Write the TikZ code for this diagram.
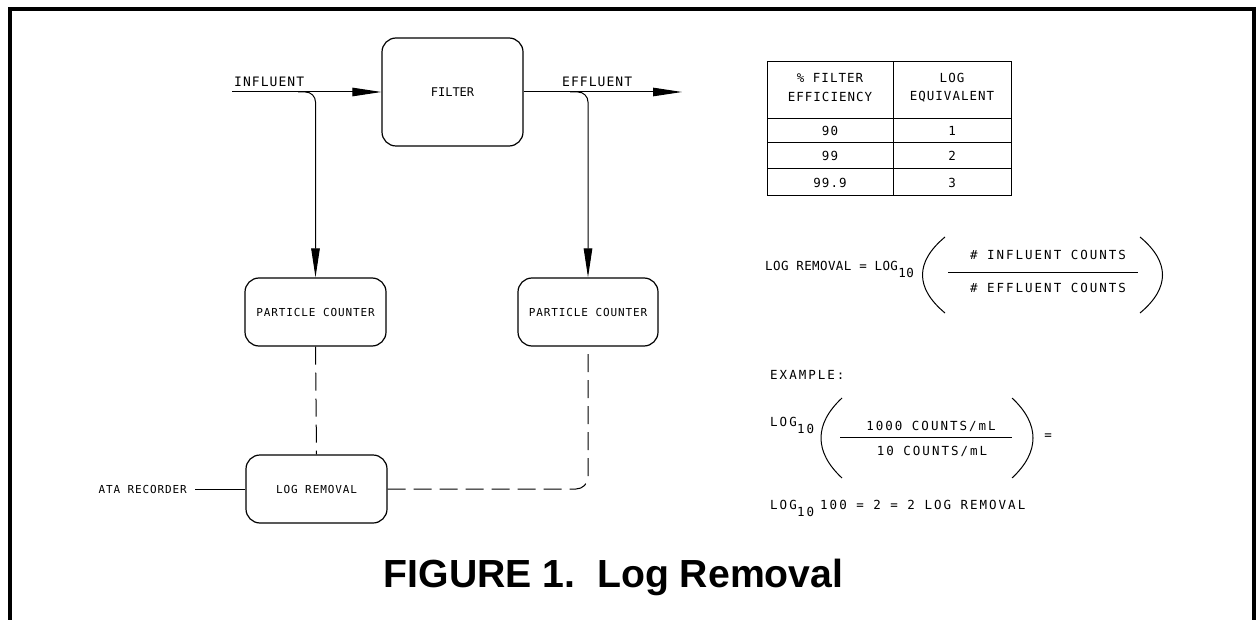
\documentclass[tikz,border=0pt]{standalone}
\usepackage{fontspec}
\setmainfont{Liberation Sans}
\newfontfamily\cad{DejaVu Sans Mono}
\newfontfamily\cadA{DejaVu Sans Mono}[LetterSpace=8]
\newfontfamily\cadB{DejaVu Sans Mono}[LetterSpace=16]
\newfontfamily\cadC{DejaVu Sans Mono}[LetterSpace=3]
\usetikzlibrary{arrows.meta}
\begin{document}
\begin{tikzpicture}[x=1pt,y=-1pt,
  box/.style={draw, line width=1.2pt, rounded corners=14pt, inner sep=0pt,
    font=\cadA\fontsize{11}{13}\selectfont},
  lbl/.style={inner sep=0pt, font=\cadA\fontsize{11}{13}\selectfont},
  flow/.style={inner sep=0pt, font=\cadA\fontsize{13}{15}\selectfont},
  tab/.style={inner sep=0pt, font=\cadA\fontsize{12.5}{15}\selectfont},
  fm/.style={inner sep=0pt, font=\cadB\fontsize{12.5}{15}\selectfont},
  fmn/.style={inner sep=0pt, font=\cadC\fontsize{12.5}{15}\selectfont},
  ln/.style={line width=1pt},
  arr/.style={-{Triangle[length=29pt,width=8.5pt]}},
  dsh/.style={line width=1pt, dash pattern=on 18pt off 8pt},
  frame/.style={line width=4pt},
  title/.style={inner sep=0pt, font=\bfseries\fontsize{39.2}{45}\selectfont}]
\useasboundingbox (0,0) rectangle (1257,620);
\draw[frame] (9.5,620) -- (9.5,9.5) -- (1254,9.5) -- (1254,620);

% boxes
\node[box, font=\cad\fontsize{12}{14}\selectfont, minimum width=141pt, minimum height=108pt] (filter) at (452.5,92) {FILTER};
\node[box, minimum width=141pt, minimum height=68pt] (pc1) at (315.5,312) {PARTICLE COUNTER};
\node[box, minimum width=140pt, minimum height=68pt] (pc2) at (588,312) {PARTICLE COUNTER};
\node[box, minimum width=141pt, minimum height=68pt] (lr) at (316.5,489) {LOG REMOVAL};

% influent / effluent
\coordinate (in0) at (232,92);
\coordinate (b1) at (298,92);
\coordinate (out) at (682,92);
\coordinate (b2) at (570,92);
\node[flow, anchor=west] (inl) at (234,82) {INFLUENT};
\node[flow, anchor=west] (efl) at (562,82) {EFFLUENT};
\draw[ln, arr] (in0) -- (filter.west);
\draw[ln, arr, rounded corners=10pt] (b1) -| (pc1.north);
\draw[ln, arr] (filter.east) -- (out);
\draw[ln, arr, rounded corners=10pt] (b2) -| (pc2.north);

% dashed signal lines
\draw[dsh] (pc1.south) -- (lr.north);
\draw[dsh, rounded corners=12pt] (lr.east) -| (pc2.south);

% recorder
\node[lbl, anchor=east] (rec) at (187,489) {ATA RECORDER};
\draw[ln] ([xshift=8pt]rec.east) -- (lr.west);

% table
\draw[line width=1pt] (767,62) rectangle (1011,196);
\draw[line width=1pt] (893,62) -- (893,196);
\draw[line width=0.8pt] (767,118) -- (1011,118);
\draw[line width=1pt] (767,143) -- (1011,143);
\draw[line width=1pt] (767,169) -- (1011,169);
\node[tab] (h1a) at (830,78) {\%\ FILTER};
\node[tab] (h1b) at (830,97) {EFFICIENCY};
\node[tab] (h2a) at (952,78) {LOG};
\node[tab] (h2b) at (952,97) {EQUIVALENT};
\node[tab] (r1a) at (830,130.5) {90};
\node[tab] (r1b) at (952,130.5) {1};
\node[tab] (r2a) at (830,156) {99};
\node[tab] (r2b) at (952,156) {2};
\node[tab] (r3a) at (830,182.5) {99.9};
\node[tab] (r3b) at (952,182.5) {3};

% formula 1
\node[fmn, anchor=west] (f1a) at (765,266) {LOG REMOVAL = LOG};
\node[fmn, anchor=west] (f1s) at ([xshift=0pt,yshift=-7pt]f1a.east) {10};
\draw[ln] (945,237) .. controls (915,262) and (915,288) .. (945,313);
\draw[ln] (1140,237) .. controls (1170,262) and (1170,288) .. (1140,313);
\draw[ln] (948,272) -- (1138,272);
\node[fm] (f1n) at (1048,255) {\# INFLUENT COUNTS};
\node[fm] (f1d) at (1048,288) {\# EFFLUENT COUNTS};

% example
\node[fm, anchor=west] (ex) at (770,375) {EXAMPLE:};
\node[fm, anchor=west] (f2a) at (770,422) {LOG};
\node[fm, anchor=west] (f2s) at ([xshift=0pt,yshift=-7pt]f2a.east) {10};
\draw[ln] (842,398) .. controls (814,424) and (814,452) .. (842,478);
\draw[ln] (1012,398) .. controls (1040,424) and (1040,452) .. (1012,478);
\draw[ln] (840,437) -- (1012,437);
\node[fm] (f2n) at (931,426) {1000 COUNTS/mL};
\node[fm] (f2d) at (932,451) {10 COUNTS/mL};
\node[fm] (f2e) at (1048,437) {=};
\node[fm, anchor=west] (f3a) at (770,505) {LOG};
\node[fm, anchor=west] (f3s) at ([xshift=0pt,yshift=-7pt]f3a.east) {10};
\node[fm, anchor=west] (f3b) at (820,505) {100 = 2 = 2 LOG REMOVAL};

% title
\node[title] (ttl) at (613.5,577) {FIGURE 1.\ \ Log Removal};
\end{tikzpicture}
\end{document}
